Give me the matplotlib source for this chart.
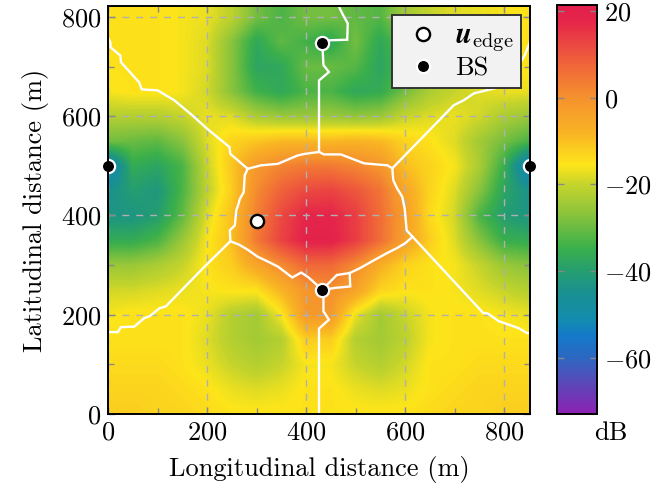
import numpy as np
import matplotlib
matplotlib.use("Agg")
import matplotlib.pyplot as plt
from matplotlib.colors import LinearSegmentedColormap
from matplotlib.lines import Line2D

# ---------------- data ----------------
x_grid = [0, 50, 100, 150, 200, 250, 300, 350, 400, 450, 500, 550, 600, 650, 700, 750, 800, 850]
y_grid = [0, 50, 100, 150, 200, 250, 300, 350, 400, 450, 500, 550, 600, 650, 700, 750, 800]

# dB values, one row per y_grid value (bottom to top)
row_y0   = [-12, -12, -13, -13, -14, -15, -15, -15, -15, -15, -15, -15, -15, -14, -13, -13, -12, -12]
row_y50  = [-13, -13, -13, -14, -15, -17, -18, -17, -15, -15, -17, -18, -17, -15, -14, -13, -13, -13]
row_y100 = [-14, -14, -14, -15, -17, -20, -22, -20, -16, -16, -20, -22, -19, -15, -15, -14, -14, -14]
row_y150 = [-15, -15, -15, -15, -18, -22, -24, -22, -12, -12, -22, -24, -21, -16, -15, -15, -15, -15]
row_y200 = [-16, -15, -15, -15, -17, -22, -24, -16, -2, -2, -17, -24, -20, -16, -15, -15, -16, -17]
row_y250 = [-19, -19, -18, -17, -16, -15, -15, -8, -1, 0, -4, -13, -15, -15, -16, -18, -20, -22]
row_y300 = [-25, -25, -23, -20, -15, -12, -5, 1, 7, 7, 1, -7, -13, -15, -16, -20, -25, -27]
row_y350 = [-36, -36, -33, -25, -16, -10, 4, 13, 19, 19, 14, 6, -4, -12, -18, -27, -35, -36]
row_y400 = [-43, -43, -40, -31, -18, -10, 3, 12, 18, 18, 14, 6, -3, -14, -19, -33, -40, -43]
row_y450 = [-45, -40, -42, -33, -21, -12, 1, 8, 12, 13, 10, 5, -5, -13, -18, -27, -38, -44]
row_y500 = [-55, -36, -38, -33, -20, -11, -2, 2, 4, 4, 2, -1, -10, -13, -16, -23, -35, -55]
row_y550 = [-29, -30, -31, -27, -18, -13, -11, -9, -9, -9, -8, -9, -13, -15, -18, -24, -29, -33]
row_y600 = [-22, -22, -22, -20, -17, -18, -23, -25, -25, -25, -26, -25, -20, -18, -17, -19, -23, -25]
row_y650 = [-16, -15, -15, -16, -19, -27, -34, -37, -33, -33, -37, -36, -29, -23, -20, -18, -17, -17]
row_y700 = [-15, -15, -15, -16, -18, -27, -38, -37, -30, -30, -32, -38, -32, -23, -19, -17, -16, -15]
row_y750 = [-15, -15, -15, -16, -18, -27, -37, -31, -34, -37, -29, -37, -30, -22, -19, -17, -16, -15]
row_y800 = [-15, -15, -15, -16, -17, -21, -29, -33, -29, -29, -31, -32, -24, -20, -18, -17, -16, -15]

rows = [row_y0, row_y50, row_y100, row_y150, row_y200, row_y250, row_y300, row_y350,
        row_y400, row_y450, row_y500, row_y550, row_y600, row_y650, row_y700, row_y750, row_y800]

bs_x = [0, 432, 432, 852]
bs_y = [500, 748, 250, 500]
uedge_x = [300]
uedge_y = [388]

# cell boundaries (white lines)
b_topleft_x = [0, 5, 5, 25, 26, 63, 68, 100, 117, 134, 171, 201, 245, 247, 282]
b_topleft_y = [758, 748, 739, 722, 709, 668, 654, 652, 642, 632, 601, 574, 538, 524, 494]
b_center_x = [282, 309, 343, 383, 397, 426, 436, 470, 517, 564, 574, 576, 584, 594, 599, 603, 615,
              600, 583, 563, 532, 509, 488, 462, 440, 433, 405, 390, 372, 343, 323, 302, 282, 265, 247,
              246, 256, 259, 264, 266, 274, 276, 282]
b_center_y = [494, 501, 504, 521, 524, 528, 523, 523, 505, 501, 495, 471, 454, 438, 414, 370, 357,
              344, 334, 324, 307, 294, 284, 280, 258, 250, 275, 285, 275, 297, 307, 317, 331, 341, 348,
              370, 380, 410, 425, 433, 447, 481, 494]
b_loop_x = [488, 489, 458, 433]
b_loop_y = [284, 257, 254, 250]
b_bottom_x = [433, 435, 435, 446, 426, 426]
b_bottom_y = [250, 236, 207, 190, 172, 0]
b_top_x = [426, 426, 446, 435, 433, 432, 449, 483, 484, 475, 468, 466]
b_top_y = [528, 672, 689, 703, 740, 748, 753, 754, 787, 803, 817, 822]
b_leftlow_x = [247, 195, 117, 104, 84, 73, 53, 26, 20, 0]
b_leftlow_y = [348, 297, 217, 213, 197, 193, 176, 175, 165, 165]
b_rightup_x = [574, 698, 718, 739, 772, 789, 805, 820, 835, 842, 849, 852]
b_rightup_y = [495, 622, 632, 646, 654, 658, 672, 690, 712, 724, 742, 750]
b_rightlow_x = [615, 758, 766, 789, 829, 846, 852]
b_rightlow_y = [357, 203, 203, 187, 173, 163, 163]

cb_ticks = [-60, -40, -20, 0, 20]

# ---------------- style ----------------
plt.rcParams["font.family"] = "serif"
plt.rcParams["font.serif"] = ["cmr10", "DejaVu Serif"]
plt.rcParams["mathtext.fontset"] = "cm"
plt.rcParams["axes.formatter.use_mathtext"] = True
plt.rcParams["font.size"] = 19

cmap_vals = [-73, -66, -60, -55, -51.5, -45, -40, -34.5, -26.7, -20, -15.5, -8, 0, 9, 18, 21.4]
cmap_cols = ["#8c22b4", "#5a48b8", "#2c68c2", "#1479c9", "#128cb0", "#1a9090", "#259e70",
             "#3cb04a", "#8cc43c", "#c5d42c", "#fde51a", "#f9b324", "#f5922e", "#ef5d3b",
             "#e5254a", "#e21f4c"]
vmin, vmax = -73, 21.4
pos = [(v - vmin) / (vmax - vmin) for v in cmap_vals]
cmap = LinearSegmentedColormap.from_list("c", list(zip(pos, cmap_cols)))

W, H = 656, 491
fig = plt.figure(figsize=(W / 100, H / 100), dpi=100)
ax = fig.add_axes([108 / W, (H - 414) / H, 422 / W, 408 / H])

Z = np.array(rows, dtype=float)
dx = x_grid[1] - x_grid[0]
dy = y_grid[1] - y_grid[0]
im = ax.imshow(Z, origin="lower", cmap=cmap, vmin=vmin, vmax=vmax, aspect="auto",
               extent=[x_grid[0] - dx / 2, x_grid[-1] + dx / 2, y_grid[0] - dy / 2, y_grid[-1] + dy / 2],
               interpolation="bilinear", interpolation_stage="data", zorder=0)

ax.set_xlim(0, 852)
ax.set_ylim(0, 822)

lw_b = 1.7
for bx, by in [(b_topleft_x, b_topleft_y), (b_center_x, b_center_y), (b_loop_x, b_loop_y),
               (b_bottom_x, b_bottom_y), (b_top_x, b_top_y), (b_leftlow_x, b_leftlow_y),
               (b_rightup_x, b_rightup_y), (b_rightlow_x, b_rightlow_y)]:
    ax.plot(bx, by, color="white", lw=lw_b, zorder=3, solid_joinstyle="miter")

ax.plot(bs_x, bs_y, "o", color="black", mec="white", mew=1.6, ms=9.5, zorder=5, clip_on=False)
ax.plot(uedge_x, uedge_y, "o", color="white", mec="black", mew=1.7, ms=9.5, zorder=5)

ax.set_xticks([0, 200, 400, 600, 800])
ax.set_yticks([0, 200, 400, 600, 800])
ax.set_xticks([100, 300, 500, 700], minor=True)
ax.set_yticks([100, 300, 500, 700], minor=True)
ax.tick_params(which="both", direction="in", top=True, right=True, color="#888888", width=1.0)
ax.tick_params(which="major", length=5, pad=5)
ax.tick_params(which="minor", length=4)
ax.grid(True, which="major", color="#b0b0b0", ls=(0, (5, 5)), lw=1.0, zorder=1)
for s in ax.spines.values():
    s.set_linewidth(1.4)
    s.set_zorder(6)

ax.set_xlabel("Longitudinal distance (m)", labelpad=8)
ax.set_ylabel("Latitudinal distance (m)", labelpad=8)

handles = [Line2D([], [], ls="none", marker="o", color="white", mec="black", mew=1.7, ms=9.5),
           Line2D([], [], ls="none", marker="o", color="black", mec="white", mew=1.6, ms=9.5)]
leg = ax.legend(handles, [r"$\boldsymbol{u}_{\mathrm{edge}}$", "BS"], loc="upper right",
                fancybox=False, framealpha=1, facecolor="#f2f2f2", edgecolor="#333333",
                borderaxespad=0.35, handletextpad=0.3, labelspacing=0.1, borderpad=0.28,
                handlelength=1.8)
leg.get_texts()[0].set_fontsize(21)
leg.get_frame().set_linewidth(1.4)
leg.set_zorder(7)

cax = fig.add_axes([557 / W, (H - 414) / H, 40 / W, 409 / H])
cb = fig.colorbar(im, cax=cax, ticks=cb_ticks)
cb.outline.set_linewidth(1.4)
cax.tick_params(direction="in", left=True, right=True, color="#888888", length=5, width=1.0, pad=5)
fig.text(611 / W, 1 - 433 / H, "dB", ha="center", va="center")

fig.savefig("out.png", dpi=100)
